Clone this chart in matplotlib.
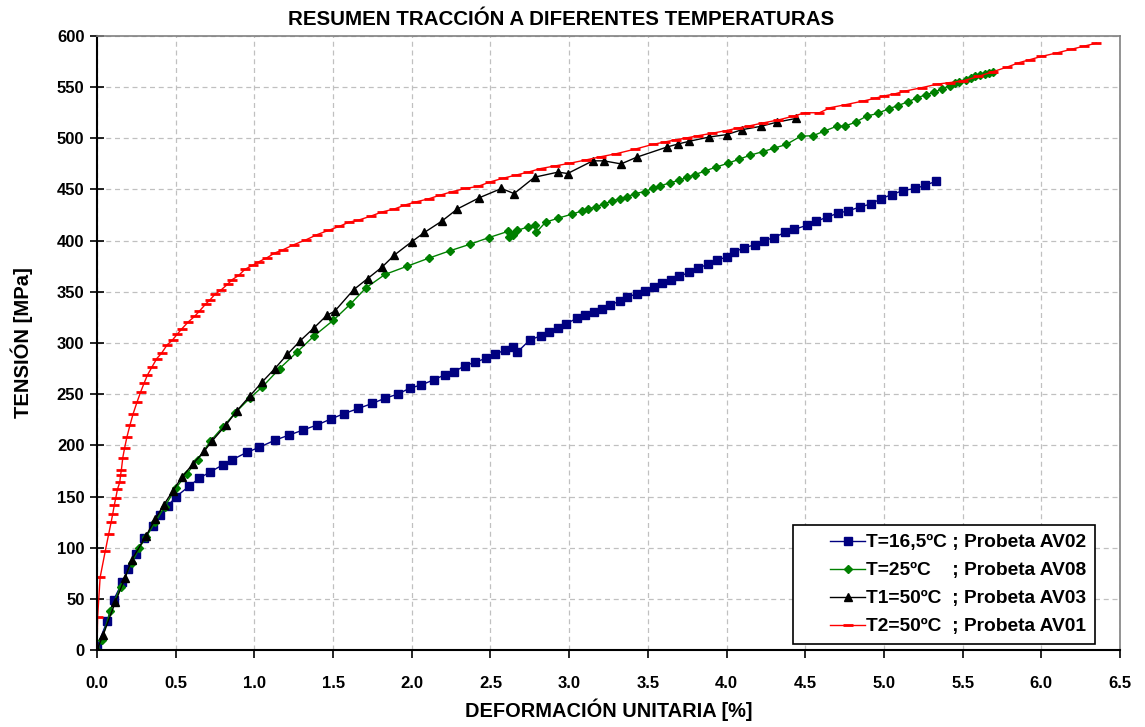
import matplotlib
matplotlib.use("Agg")
import matplotlib.pyplot as plt
from matplotlib.legend_handler import HandlerLine2D
import numpy as np

plt.rcParams['font.family'] = ['Liberation Sans', 'DejaVu Sans']

title = "RESUMEN TRACCIÓN A DIFERENTES TEMPERATURAS"
xlabel = "DEFORMACIÓN UNITARIA [%]"
ylabel = "TENSIÓN [MPa]"
labels = ["T=16,5ºC ; Probeta AV02", "T=25ºC    ; Probeta AV08",
          "T1=50ºC  ; Probeta AV03", "T2=50ºC  ; Probeta AV01"]

# (strain %, stress MPa)
AV02 = [(0.0, 3), (0.064, 28), (0.106, 49), (0.16, 66), (0.20, 79), (0.245, 94), (0.30, 109),
        (0.355, 121), (0.40, 132), (0.45, 141), (0.504, 150), (0.585, 160), (0.65, 168), (0.72, 174),
        (0.80, 181), (0.86, 186), (0.95, 193), (1.03, 198), (1.13, 205), (1.22, 210), (1.31, 215),
        (1.40, 220), (1.49, 226), (1.57, 231), (1.66, 236), (1.75, 241), (1.83, 246), (1.91, 250),
        (1.99, 256), (2.06, 259), (2.14, 264), (2.21, 269), (2.27, 272), (2.34, 278), (2.40, 281),
        (2.47, 285), (2.53, 289), (2.59, 293), (2.64, 296), (2.67, 291), (2.75, 303), (2.82, 307),
        (2.87, 311), (2.93, 315), (2.98, 319), (3.05, 324), (3.10, 327), (3.16, 330), (3.21, 333),
        (3.26, 337), (3.32, 341), (3.37, 345), (3.43, 348), (3.48, 351), (3.54, 355), (3.59, 359),
        (3.65, 362), (3.70, 365), (3.76, 369), (3.82, 373), (3.88, 377), (3.94, 381), (4.00, 384),
        (4.05, 389), (4.11, 393), (4.18, 396), (4.24, 400), (4.30, 403), (4.37, 408), (4.43, 411),
        (4.51, 415), (4.57, 419), (4.64, 423), (4.71, 427), (4.77, 429), (4.85, 433), (4.92, 436),
        (4.98, 441), (5.05, 445), (5.12, 449), (5.20, 451), (5.26, 454), (5.33, 458)]

AV08 = [(0.0, 0), (0.03, 10), (0.085, 38), (0.15, 62), (0.22, 85), (0.27, 100), (0.31, 110),
        (0.37, 125), (0.43, 140), (0.50, 158), (0.57, 172), (0.64, 186), (0.72, 204), (0.80, 218),
        (0.88, 232), (0.97, 246), (1.05, 257), (1.16, 275), (1.27, 291), (1.38, 307), (1.50, 322),
        (1.61, 338), (1.71, 354), (1.83, 367), (1.97, 375), (2.11, 383), (2.24, 390), (2.37, 396.5),
        (2.49, 403), (2.61, 409), (2.62, 404), (2.64, 406), (2.67, 410), (2.74, 413.5), (2.78, 415),
        (2.79, 408), (2.85, 418), (2.93, 422), (3.02, 426), (3.08, 429), (3.12, 431), (3.17, 433),
        (3.22, 436), (3.27, 438.5), (3.32, 441), (3.37, 443), (3.42, 446), (3.48, 448), (3.53, 451),
        (3.58, 453.5), (3.64, 456.6), (3.70, 459), (3.75, 462), (3.80, 464.5), (3.86, 468),
        (3.93, 471.7), (4.01, 475.7), (4.08, 479.6), (4.15, 483.5), (4.23, 487), (4.30, 490.3),
        (4.38, 494), (4.47, 502), (4.55, 502.6), (4.62, 507), (4.70, 511.8), (4.75, 511.8),
        (4.82, 515.8), (4.89, 521.7), (4.96, 524.3), (5.03, 528.9), (5.09, 532), (5.15, 535.6),
        (5.21, 539.5), (5.27, 542.8), (5.32, 545), (5.37, 548.4), (5.42, 551.6), (5.45, 553.6),
        (5.48, 555), (5.52, 557), (5.55, 559), (5.58, 560.5), (5.61, 561.5), (5.64, 562.5),
        (5.67, 563.5), (5.69, 565)]

AV03 = [(0.0, 0), (0.04, 15), (0.117, 47), (0.177, 70), (0.22, 88), (0.31, 111), (0.37, 128),
        (0.425, 142), (0.48, 155), (0.54, 169), (0.61, 182), (0.68, 194), (0.73, 204), (0.82, 220),
        (0.89, 234), (0.97, 248), (1.05, 262), (1.13, 275), (1.21, 289), (1.29, 302), (1.38, 315),
        (1.46, 327), (1.51, 331), (1.63, 352), (1.72, 363), (1.81, 374), (1.89, 386), (2.0, 399),
        (2.08, 408), (2.19, 419), (2.29, 431), (2.43, 442), (2.57, 451), (2.65, 446), (2.78, 462),
        (2.93, 467), (2.99, 465.6), (3.15, 478), (3.22, 478), (3.33, 475), (3.43, 481.6),
        (3.62, 491.4), (3.69, 494.4), (3.76, 497), (3.89, 501.3), (4.0, 503.6), (4.1, 508.5),
        (4.22, 511.8), (4.32, 515.8), (4.44, 519.4)]

AV01 = [(0.0, 0), (0.004, 32), (0.02, 71), (0.053, 97), (0.074, 113), (0.09, 125), (0.10, 133),
        (0.11, 141.5), (0.12, 149), (0.13, 157), (0.145, 164), (0.15, 171), (0.155, 176),
        (0.164, 188), (0.175, 197), (0.19, 208), (0.21, 220), (0.23, 231), (0.255, 242.5),
        (0.277, 252), (0.30, 261), (0.32, 268.5), (0.35, 276.7), (0.38, 284.8), (0.41, 290),
        (0.445, 298), (0.48, 303), (0.51, 308.6), (0.54, 314), (0.58, 320.6), (0.62, 326),
        (0.65, 331), (0.69, 338), (0.72, 342.5), (0.75, 347.7), (0.79, 352), (0.83, 357.5),
        (0.86, 362), (0.90, 366), (0.94, 372), (0.99, 376), (1.03, 379.5), (1.08, 383.3),
        (1.13, 388), (1.18, 391), (1.25, 396), (1.33, 401), (1.40, 406), (1.47, 410), (1.54, 414),
        (1.60, 418), (1.66, 420), (1.74, 424), (1.81, 428), (1.89, 431), (1.96, 435), (2.03, 438),
        (2.11, 441), (2.18, 444.5), (2.26, 448), (2.34, 451), (2.42, 453), (2.50, 457.5),
        (2.58, 461), (2.66, 464), (2.74, 467), (2.82, 470.5), (2.91, 473), (3.0, 475.5),
        (3.11, 479), (3.20, 482), (3.30, 485), (3.42, 489.5), (3.53, 494), (3.61, 496.5),
        (3.68, 498.7), (3.75, 500.5), (3.82, 502.6), (3.91, 505), (4.0, 507.6), (4.07, 510),
        (4.14, 512), (4.23, 515), (4.33, 518), (4.42, 521.5), (4.5, 525), (4.59, 525), (4.66, 530),
        (4.76, 533), (4.87, 536.5), (4.94, 539), (5.0, 541.4), (5.07, 543.5), (5.13, 546),
        (5.24, 549.5), (5.34, 553), (5.42, 554.5), (5.5, 556), (5.6, 560.5), (5.69, 565),
        (5.78, 569.5), (5.86, 574), (5.93, 577), (6.0, 580), (6.1, 583.5), (6.19, 587),
        (6.27, 590), (6.35, 593)]

xticks = np.arange(0, 6.51, 0.5)
yticks = np.arange(0, 601, 50)


class RightLineHandler(HandlerLine2D):
    """Draw the legend line only on the right part of the handle box."""
    def create_artists(self, legend, orig_handle, xdescent, ydescent, width, height,
                       fontsize, trans):
        artists = super().create_artists(legend, orig_handle, xdescent, ydescent, width,
                                         height, fontsize, trans)
        line = artists[0]
        xd = np.asarray(line.get_xdata(), dtype=float)
        right = xd[-1]
        left = right - 0.55 * (right - xd[0])
        if len(artists) == 1:
            line.set_xdata([left, (left + right) / 2, right])
        else:
            line.set_xdata([left, right])
            artists[1].set_xdata([(left + right) / 2])
        return artists


fig = plt.figure(figsize=(11.45, 7.27), dpi=100)
ax = fig.add_axes([0.0847, 0.1059, 0.8935, 0.8446])

series = [
    (AV02, dict(color='#000080', marker='s', markersize=5.5, lw=1.0)),
    (AV08, dict(color='#008000', marker='D', markersize=4.5, lw=1.0)),
    (AV03, dict(color='black', marker='^', markersize=6, lw=1.0)),
    (AV01, dict(color='#ff0000', marker='_', markersize=7, markeredgewidth=2, lw=1.0)),
]
handles = []
for (data, style), lab in zip(series, labels):
    xs = [p[0] for p in data]
    ys = [p[1] for p in data]
    h, = ax.plot(xs, ys, label=lab, **style)
    handles.append(h)

ax.set_xlim(0, 6.5)
ax.set_ylim(0, 600)
ax.set_xticks(xticks)
ax.set_yticks(yticks)
ax.set_xticklabels([f"{v:.1f}" for v in xticks], fontsize=12, fontweight='bold')
ax.set_yticklabels([f"{int(v)}" for v in yticks], fontsize=12, fontweight='bold')
ax.tick_params(axis='x', direction='out', length=6, width=1.2, pad=13)
ax.tick_params(axis='y', direction='inout', length=10, width=1.2, pad=4)

ax.grid(True, color='#c0c0c0', linestyle=(0, (4, 3)), linewidth=0.9)
ax.set_axisbelow(True)
for s in ['left', 'bottom']:
    ax.spines[s].set_color('black')
    ax.spines[s].set_linewidth(1.5)
for s in ['top', 'right']:
    ax.spines[s].set_color('#808080')
    ax.spines[s].set_linewidth(1.2)

fig.text(561.5 / 1145, 1 - 25 / 727, title, fontsize=14.8, fontweight='bold',
         ha='center', va='baseline')
ax.set_xlabel(xlabel, fontsize=14.4, fontweight='bold', labelpad=5)
ax.set_ylabel(ylabel, fontsize=14.6, fontweight='bold', labelpad=17)

leg = ax.legend(handles=handles, loc='lower right', bbox_to_anchor=(0.9756, 0.0098),
                borderaxespad=0,
                prop=dict(size=13.8, weight='bold'),
                frameon=True, fancybox=False, edgecolor='black', framealpha=1,
                handlelength=3.3, handletextpad=0.05, borderpad=0.45, labelspacing=0.55,
                handler_map={h: RightLineHandler() for h in handles})
leg.get_frame().set_linewidth(1.2)

fig.savefig("out.png", dpi=100)
